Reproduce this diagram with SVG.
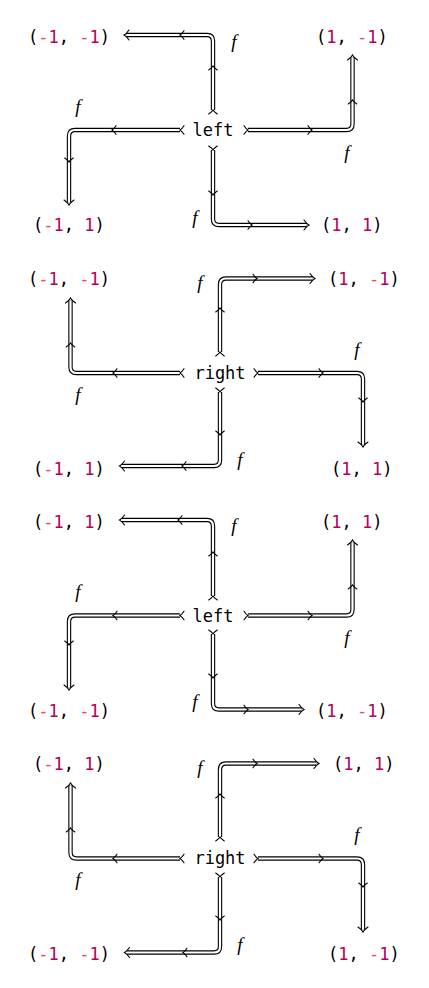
<svg xmlns="http://www.w3.org/2000/svg" xmlns:xlink="http://www.w3.org/1999/xlink" width="429" height="988" viewBox="0 0 429 988">
<style>
.t{font-family:"DejaVu Sans Mono","Liberation Mono",monospace;font-size:17px;fill:#000}
.op{fill:#e0505e}
.n{fill:#b60157}
.f{font-family:"Liberation Serif","DejaVu Serif",serif;font-style:italic;font-size:19px;fill:#000;text-anchor:middle}
.ob{fill:none;stroke:#000;stroke-width:4.4}
.ow{fill:none;stroke:#fff;stroke-width:2.2}
.ch{fill:none;stroke:#000;stroke-width:1.1;stroke-linecap:round}
.c{text-anchor:middle}
</style>
<defs>
<path id="hd" class="ch" d="M-5,-5 Q-2.4,-1.2 0,0 Q-2.4,1.2 -5,5"/>
<path id="md" class="ch" d="M-4,-4.3 Q-1.8,-1 0,0 Q-1.8,1 -4,4.3"/>
</defs>
<rect width="429" height="988" fill="#fff"/>
<g id="connectors">
<g id="lines-black" class="ob">
<path d="M213,110 V41 Q213,35 207,35 H126.5"/>
<path d="M248,130 H346.5 Q352.5,130 352.5,124 V57.5"/>
<path d="M180,130 H75 Q69,130 69,136 V202.5"/>
<path d="M213,150 V219 Q213,225 219,225 H306.5"/>
<path d="M220,352 V284.5 Q220,278.5 226,278.5 H312.5"/>
<path d="M258,373 H357 Q363,373 363,379 V444.5"/>
<path d="M180,373 H76.5 Q70.5,373 70.5,367 V300.5"/>
<path d="M220,392 V460 Q220,466 214,466 H122"/>
<path d="M213,596 V526 Q213,520 207,520 H122"/>
<path d="M248,615.5 H346.5 Q352.5,615.5 352.5,609.5 V542.5"/>
<path d="M180,615.5 H75 Q69,615.5 69,621.5 V687.5"/>
<path d="M213,634 V703.5 Q213,709.5 219,709.5 H301.5"/>
<path d="M220,837 V769.5 Q220,763.5 226,763.5 H316.5"/>
<path d="M258,858.5 H357 Q363,858.5 363,864.5 V929.5"/>
<path d="M180,858.5 H76.5 Q70.5,858.5 70.5,852.5 V785.5"/>
<path d="M220,877 V946.5 Q220,952.5 214,952.5 H127"/>
</g>
<g id="lines-white" class="ow">
<path d="M213,110 V41 Q213,35 207,35 H126.5"/>
<path d="M248,130 H346.5 Q352.5,130 352.5,124 V57.5"/>
<path d="M180,130 H75 Q69,130 69,136 V202.5"/>
<path d="M213,150 V219 Q213,225 219,225 H306.5"/>
<path d="M220,352 V284.5 Q220,278.5 226,278.5 H312.5"/>
<path d="M258,373 H357 Q363,373 363,379 V444.5"/>
<path d="M180,373 H76.5 Q70.5,373 70.5,367 V300.5"/>
<path d="M220,392 V460 Q220,466 214,466 H122"/>
<path d="M213,596 V526 Q213,520 207,520 H122"/>
<path d="M248,615.5 H346.5 Q352.5,615.5 352.5,609.5 V542.5"/>
<path d="M180,615.5 H75 Q69,615.5 69,621.5 V687.5"/>
<path d="M213,634 V703.5 Q213,709.5 219,709.5 H301.5"/>
<path d="M220,837 V769.5 Q220,763.5 226,763.5 H316.5"/>
<path d="M258,858.5 H357 Q363,858.5 363,864.5 V929.5"/>
<path d="M180,858.5 H76.5 Q70.5,858.5 70.5,852.5 V785.5"/>
<path d="M220,877 V946.5 Q220,952.5 214,952.5 H127"/>
</g>
<g id="heads">
<use href="#hd" transform="translate(124,35) rotate(180)"/>
<use href="#hd" transform="translate(352.5,55) rotate(-90)"/>
<use href="#hd" transform="translate(69,205) rotate(90)"/>
<use href="#hd" transform="translate(309,225)"/>
<use href="#hd" transform="translate(315,278.5)"/>
<use href="#hd" transform="translate(363,447) rotate(90)"/>
<use href="#hd" transform="translate(70.5,298) rotate(-90)"/>
<use href="#hd" transform="translate(119.5,466) rotate(180)"/>
<use href="#hd" transform="translate(119.5,520) rotate(180)"/>
<use href="#hd" transform="translate(352.5,540) rotate(-90)"/>
<use href="#hd" transform="translate(69,690) rotate(90)"/>
<use href="#hd" transform="translate(304,709.5)"/>
<use href="#hd" transform="translate(319,763.5)"/>
<use href="#hd" transform="translate(363,932) rotate(90)"/>
<use href="#hd" transform="translate(70.5,783) rotate(-90)"/>
<use href="#hd" transform="translate(124.5,952.5) rotate(180)"/>
</g>
<g id="tails">
<use href="#md" transform="translate(213,110) rotate(-90)"/>
<use href="#md" transform="translate(248,130)"/>
<use href="#md" transform="translate(180,130) rotate(180)"/>
<use href="#md" transform="translate(213,150) rotate(90)"/>
<use href="#md" transform="translate(220,352) rotate(-90)"/>
<use href="#md" transform="translate(258,373)"/>
<use href="#md" transform="translate(180,373) rotate(180)"/>
<use href="#md" transform="translate(220,392) rotate(90)"/>
<use href="#md" transform="translate(213,596) rotate(-90)"/>
<use href="#md" transform="translate(248,615.5)"/>
<use href="#md" transform="translate(180,615.5) rotate(180)"/>
<use href="#md" transform="translate(213,634) rotate(90)"/>
<use href="#md" transform="translate(220,837) rotate(-90)"/>
<use href="#md" transform="translate(258,858.5)"/>
<use href="#md" transform="translate(180,858.5) rotate(180)"/>
<use href="#md" transform="translate(220,877) rotate(90)"/>
</g>
<g id="mids">
<use href="#md" transform="translate(213,66) rotate(-90)"/>
<use href="#md" transform="translate(180,35) rotate(180)"/>
<use href="#md" transform="translate(312,130)"/>
<use href="#md" transform="translate(352.5,100) rotate(-90)"/>
<use href="#md" transform="translate(112,130) rotate(180)"/>
<use href="#md" transform="translate(69,162) rotate(90)"/>
<use href="#md" transform="translate(213,195) rotate(90)"/>
<use href="#md" transform="translate(252,225)"/>
<use href="#md" transform="translate(220,308) rotate(-90)"/>
<use href="#md" transform="translate(257,278.5)"/>
<use href="#md" transform="translate(323,373)"/>
<use href="#md" transform="translate(363,402) rotate(90)"/>
<use href="#md" transform="translate(113,373) rotate(180)"/>
<use href="#md" transform="translate(70.5,343) rotate(-90)"/>
<use href="#md" transform="translate(220,435) rotate(90)"/>
<use href="#md" transform="translate(182,466) rotate(180)"/>
<use href="#md" transform="translate(213,552) rotate(-90)"/>
<use href="#md" transform="translate(178,520) rotate(180)"/>
<use href="#md" transform="translate(312,615.5)"/>
<use href="#md" transform="translate(352.5,585) rotate(-90)"/>
<use href="#md" transform="translate(113,615.5) rotate(180)"/>
<use href="#md" transform="translate(69,645) rotate(90)"/>
<use href="#md" transform="translate(213,678) rotate(90)"/>
<use href="#md" transform="translate(248,709.5)"/>
<use href="#md" transform="translate(220,794) rotate(-90)"/>
<use href="#md" transform="translate(257,763.5)"/>
<use href="#md" transform="translate(323,858.5)"/>
<use href="#md" transform="translate(363,887) rotate(90)"/>
<use href="#md" transform="translate(113,858.5) rotate(180)"/>
<use href="#md" transform="translate(70.5,828) rotate(-90)"/>
<use href="#md" transform="translate(220,920) rotate(90)"/>
<use href="#md" transform="translate(183,952.5) rotate(180)"/>
</g>
<g id="edge-labels">
<text class="f" x="234" y="48">f</text>
<text class="f" x="347" y="159">f</text>
<text class="f" x="78" y="113">f</text>
<text class="f" x="195" y="224">f</text>
<text class="f" x="200" y="289">f</text>
<text class="f" x="357" y="356">f</text>
<text class="f" x="78" y="401">f</text>
<text class="f" x="240" y="466">f</text>
<text class="f" x="234" y="532">f</text>
<text class="f" x="347" y="644">f</text>
<text class="f" x="78" y="598">f</text>
<text class="f" x="195" y="708">f</text>
<text class="f" x="200" y="774">f</text>
<text class="f" x="357" y="841">f</text>
<text class="f" x="78" y="886">f</text>
<text class="f" x="240" y="951">f</text>
</g>
</g>
<g id="p1-center"><text class="t c" x="213" y="136">left</text></g>
<g id="p1-nw"><text class="t" x="28" y="43">(<tspan class="op">-</tspan><tspan class="n">1</tspan>, <tspan class="op">-</tspan><tspan class="n">1</tspan>)</text></g>
<g id="p1-ne"><text class="t" x="316" y="43">(<tspan class="n">1</tspan>, <tspan class="op">-</tspan><tspan class="n">1</tspan>)</text></g>
<g id="p1-sw"><text class="t" x="33" y="231">(<tspan class="op">-</tspan><tspan class="n">1</tspan>, <tspan class="n">1</tspan>)</text></g>
<g id="p1-se"><text class="t" x="321" y="231">(<tspan class="n">1</tspan>, <tspan class="n">1</tspan>)</text></g>
<g id="p2-center"><text class="t c" x="220" y="378.5">right</text></g>
<g id="p2-nw"><text class="t" x="28" y="285">(<tspan class="op">-</tspan><tspan class="n">1</tspan>, <tspan class="op">-</tspan><tspan class="n">1</tspan>)</text></g>
<g id="p2-ne"><text class="t" x="328" y="285">(<tspan class="n">1</tspan>, <tspan class="op">-</tspan><tspan class="n">1</tspan>)</text></g>
<g id="p2-sw"><text class="t" x="33" y="475">(<tspan class="op">-</tspan><tspan class="n">1</tspan>, <tspan class="n">1</tspan>)</text></g>
<g id="p2-se"><text class="t" x="331" y="475">(<tspan class="n">1</tspan>, <tspan class="n">1</tspan>)</text></g>
<g id="p3-center"><text class="t c" x="213" y="621.5">left</text></g>
<g id="p3-nw"><text class="t" x="33" y="528">(<tspan class="op">-</tspan><tspan class="n">1</tspan>, <tspan class="n">1</tspan>)</text></g>
<g id="p3-ne"><text class="t" x="321" y="528">(<tspan class="n">1</tspan>, <tspan class="n">1</tspan>)</text></g>
<g id="p3-sw"><text class="t" x="28" y="717">(<tspan class="op">-</tspan><tspan class="n">1</tspan>, <tspan class="op">-</tspan><tspan class="n">1</tspan>)</text></g>
<g id="p3-se"><text class="t" x="316" y="717">(<tspan class="n">1</tspan>, <tspan class="op">-</tspan><tspan class="n">1</tspan>)</text></g>
<g id="p4-center"><text class="t c" x="220" y="864">right</text></g>
<g id="p4-nw"><text class="t" x="33" y="770">(<tspan class="op">-</tspan><tspan class="n">1</tspan>, <tspan class="n">1</tspan>)</text></g>
<g id="p4-ne"><text class="t" x="333" y="770">(<tspan class="n">1</tspan>, <tspan class="n">1</tspan>)</text></g>
<g id="p4-sw"><text class="t" x="28" y="959.5">(<tspan class="op">-</tspan><tspan class="n">1</tspan>, <tspan class="op">-</tspan><tspan class="n">1</tspan>)</text></g>
<g id="p4-se"><text class="t" x="328" y="959.5">(<tspan class="n">1</tspan>, <tspan class="op">-</tspan><tspan class="n">1</tspan>)</text></g>
</svg>
